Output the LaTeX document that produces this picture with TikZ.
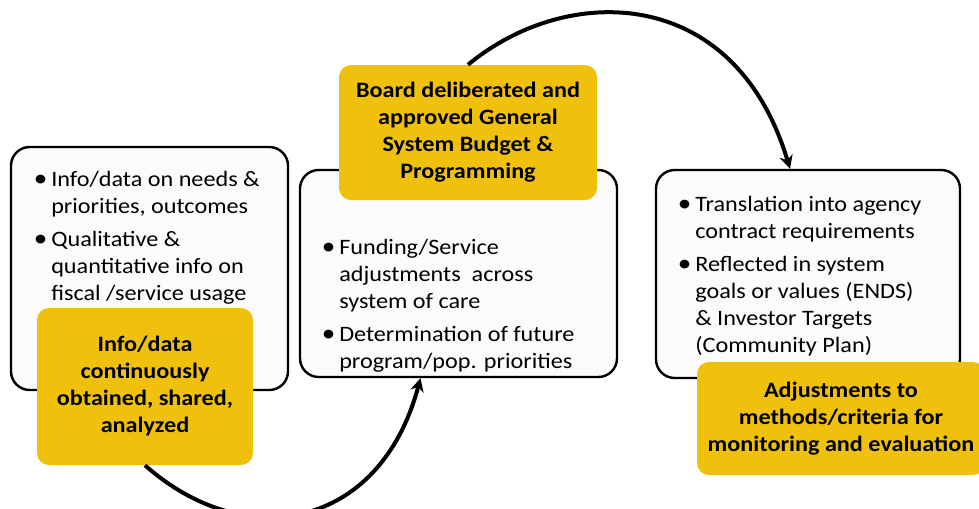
\documentclass[tikz,border=0pt]{standalone}
\usepackage{fontspec}
\setmainfont{Carlito}[FakeStretch=1.1]
\usetikzlibrary{arrows.meta}
\definecolor{gold}{RGB}{240,193,12}
\definecolor{paper}{RGB}{251,251,251}
\newcommand{\bul}{\makebox[12pt][l]{\hspace*{-1pt}\raisebox{-0.6pt}{\fontsize{18.5}{20}\selectfont\textbullet}}}
\newcommand{\ind}{\hspace*{12pt}}

\begin{document}
\begin{tikzpicture}[x=0.75pt,y=-0.75pt,
    panel/.style={draw=black,line width=1.8pt,fill=paper,rounded corners=14pt,inner sep=0pt},
    note/.style={fill=gold,rounded corners=9pt,align=center,inner sep=0pt,
      font=\bfseries\fontsize{16.5}{20.25}\selectfont},
    items/.style={anchor=base west,align=left,inner sep=0pt,
      font=\fontsize{16.5}{20.25}\selectfont},
    flow/.style={line width=3pt,-{Stealth[length=10pt,width=10pt]}}]

  \useasboundingbox (0,0) rectangle (979,508);
  \fill[white] (0,0) rectangle (979,508);

  % white panels
  \node[panel,minimum width=207.75pt,minimum height=182.25pt] (lbox) at (149.5,268.5) {};
  \node[panel,minimum width=237.75pt,minimum height=155.25pt] (mbox) at (458.5,273.5) {};
  \node[panel,minimum width=228pt,minimum height=156pt] (rbox) at (808,274) {};

  % bullet lists (placed at the baseline of their last line)
  \node[items] (linfo) at (35,300) {\bul Info/data on needs \&\\
    \ind priorities, outcomes\\[4.5pt]
    \bul Qualitative \&\\
    \ind quantitative info on\\
    \ind fiscal /service usage};
  \node[items] (minfo) at (323,368) {\bul Funding/Service\\
    \ind adjustments\ \ across\\
    \ind system of care\\[4.5pt]
    \bul Determination of future\\
    \ind program/pop. priorities};
  \node[items] (rinfo) at (679,352) {\bul Translation into agency\\
    \ind contract requirements\\[4.5pt]
    \bul Reflected in system\\
    \ind goals or values (ENDS)\\
    \ind \& Investor Targets\\
    \ind (Community Plan)};

  % yellow steps
  \node[note,minimum width=162pt,minimum height=117.75pt] (gather) at (145,386.5)
    {Info/data\\continuously\\obtained, shared,\\analyzed};
  \node[note,minimum width=193.5pt,minimum height=101.25pt] (board) at (468,132.5)
    {Board deliberated and\\approved General\\System Budget \&\\Programming};
  \node[note,minimum width=216pt,minimum height=84.75pt] (adjust) at (841,418.5)
    {Adjustments to\\methods/criteria for\\monitoring and evaluation};

  % cycle arrows
  \draw[flow] (board.north) .. controls (568,-18) and (735,-15) .. ([xshift=-13.5pt]rbox.north);
  \draw[flow] (gather.south) .. controls (245,554) and (380,530) .. ([xshift=-28.5pt]mbox.south);
\end{tikzpicture}
\end{document}
